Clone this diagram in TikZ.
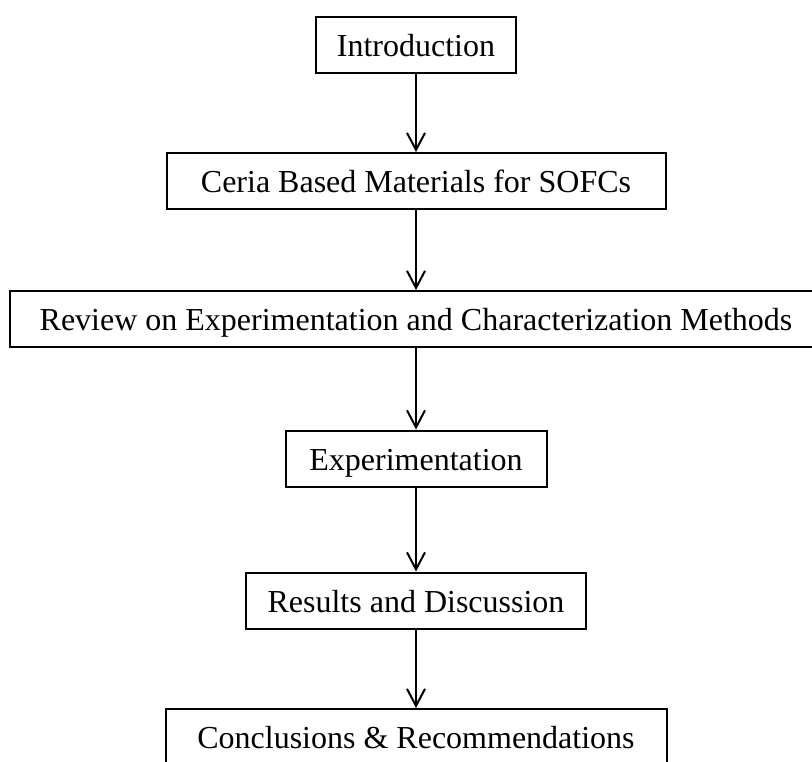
\documentclass[tikz,border=0pt]{standalone}
\usepackage{fontspec}
\setmainfont{Liberation Serif}
\usetikzlibrary{positioning, arrows.meta}

\begin{document}
\begin{tikzpicture}[
    x=1pt,
    y=-1pt,
    >={Straight Barb[length=17pt, width=18pt]},
    stage/.style={rectangle, draw, line width=2pt, minimum height=56pt,
                  inner sep=0pt, text height=23pt, text depth=0pt},
    every node/.style={font=\fontsize{32}{38}\selectfont}
]
\useasboundingbox (0,0) rectangle (812,762);

%---------------- Stages ----------------
\foreach \name/\y/\w/\lab in {intro/45/200/{Introduction},
    ceria/181/499/{Ceria Based Materials for SOFCs},
    review/319/812/{Review on Experimentation and Characterization Methods},
    exper/458.5/261/{Experimentation},
    results/600.5/340/{Results and Discussion},
    concl/737/501/{Conclusions \& Recommendations}} {
    \node[stage, minimum width=\w pt] (\name) at (416,\y) {\lab};
}

%---------------- Connections ----------------
\foreach \a/\b in {intro/ceria, ceria/review, review/exper, exper/results, results/concl} {
    \draw[->, line width=2pt] (\a) -- (\b);
}
\end{tikzpicture}
\end{document}
